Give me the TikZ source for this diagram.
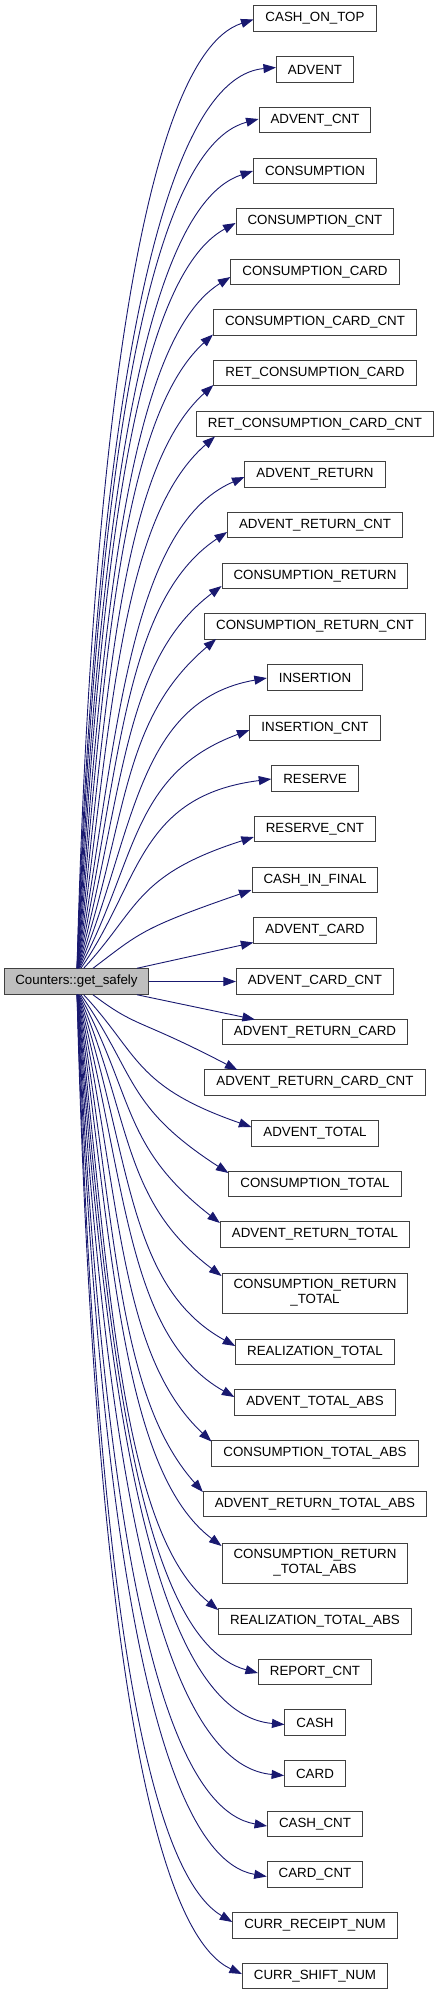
\documentclass[tikz,border=0pt]{standalone}
\usepackage{fontspec}
\newfontfamily\lsans{Liberation Sans}
\usetikzlibrary{arrows.meta,calc}
\definecolor{edgeblue}{HTML}{191970}
\definecolor{srcgray}{HTML}{BFBFBF}
\definecolor{boxline}{HTML}{404040}
\begin{document}
\begin{tikzpicture}[x=1pt,y=-1pt,
  box/.style={draw=boxline, line width=1pt, fill=white, inner xsep=11.5pt, inner ysep=0pt,
     minimum height=25.5pt, align=center, font=\lsans\fontsize{13.33}{14.7}\selectfont},
  tallbox/.style={box, minimum height=40pt},
  edge/.style={draw=edgeblue, line width=0.9pt, -{Triangle[length=12.5pt,width=9pt]}}]
\useasboundingbox (0,0) rectangle (440,1995);
\node[box, fill=srcgray, inner xsep=10.5pt] (src) at (76.5,981.5) {Counters::get\_safely};
\foreach \i/\yy/\lbl in {
  1/18.5/CASH\_ON\_TOP,
  2/69.5/ADVENT,
  3/120/ADVENT\_CNT,
  4/171/CONSUMPTION,
  5/221.5/CONSUMPTION\_CNT,
  6/272/CONSUMPTION\_CARD,
  7/322.5/CONSUMPTION\_CARD\_CNT,
  8/373/RET\_CONSUMPTION\_CARD,
  9/424/RET\_CONSUMPTION\_CARD\_CNT,
  10/474.5/ADVENT\_RETURN,
  11/525/ADVENT\_RETURN\_CNT,
  12/576/CONSUMPTION\_RETURN,
  13/626.5/CONSUMPTION\_RETURN\_CNT,
  14/677.5/INSERTION,
  15/728/INSERTION\_CNT,
  16/778.5/RESERVE,
  17/829/RESERVE\_CNT,
  18/880/CASH\_IN\_FINAL,
  19/930.5/ADVENT\_CARD,
  20/981.5/ADVENT\_CARD\_CNT,
  21/1032/ADVENT\_RETURN\_CARD,
  22/1082.5/ADVENT\_RETURN\_CARD\_CNT,
  23/1133.5/ADVENT\_TOTAL,
  24/1184/CONSUMPTION\_TOTAL,
  25/1234.5/ADVENT\_RETURN\_TOTAL,
  27/1352/REALIZATION\_TOTAL,
  28/1402.5/ADVENT\_TOTAL\_ABS,
  29/1453.5/CONSUMPTION\_TOTAL\_ABS,
  30/1504/ADVENT\_RETURN\_TOTAL\_ABS,
  32/1621.5/REALIZATION\_TOTAL\_ABS,
  33/1672/REPORT\_CNT,
  34/1722.5/CASH,
  35/1773.5/CARD,
  36/1824/CASH\_CNT,
  37/1874.5/CARD\_CNT,
  38/1925.5/CURR\_RECEIPT\_NUM,
  39/1976/CURR\_SHIFT\_NUM}
  \node[box] (t\i) at (315,\yy) {\lbl};
\node[tallbox] (t26) at (315,1293) {CONSUMPTION\_RETURN\\\_TOTAL};
\node[tallbox] (t31) at (315,1563) {CONSUMPTION\_RETURN\\\_TOTAL\_ABS};
\foreach \i/\d/\xo in {1/1/0, 2/-2/0, 3/-1/0, 4/0/0, 5/1.5/0, 6/5/0, 7/12/0, 8/12/0, 9/12.5/19, 10/2.5/0,
  11/7/0, 12/10/0, 13/12.5/12, 14/0.5/0, 15/2/0, 16/0.5/0, 17/8/0, 18/10/0, 19/12/0, 20/0/0,
  21/-12.5/33, 22/-12.5/33, 23/-6.5/0, 24/-11/0, 25/-11.5/0, 26/-17/0, 27/-6/0, 28/-5.5/0, 29/-12/0, 30/-12/0,
  31/-17/0, 32/-11.5/0, 33/1/0, 34/2/0, 35/2/0, 36/2/0, 37/2/0, 38/-3.5/0, 39/-2/0} {
  \pgfmathtruncatemacro{\k}{20-\i}
  \pgfmathtruncatemacro{\ak}{abs(\k)}
  \pgfmathsetmacro{\dd}{-1*\d}
  \ifnum\ak=0
    \draw[edge] (src.east) -- ([yshift=\dd pt]t\i.west);
  \else
    \ifnum\k>0 \def\anc{north}\else\def\anc{south}\fi
    \ifnum\ak=1
      \draw[edge] ([xshift=60.5pt]src.\anc) -- ([xshift=\xo pt, yshift=\dd pt]t\i.west);
    \else
      \pgfmathsetmacro{\sx}{16.5/((\ak-1)^1.2)}
      \pgfmathsetmacro{\ths}{90-53*exp(-0.21*(\ak-2))}
      \ifnum\k>0 \def\sg{1}\else\def\sg{-1}\fi
      \draw[edge] let \p1=([xshift=\sx pt]src.\anc), \p2=([xshift=\xo pt, yshift=\dd pt]t\i.west),
        \n1={abs(\y2-\y1)}, \n2={\x2-\x1}, \n3={max(5,8+0.6*(270-\x2))}
        in (\p1) .. controls ({\x1+0.45*\n1*cot(\ths)}, {\y1+(\sg)*0.45*\n1})
                and ({\x2-0.7*\n2}, {\y2-(\sg)*0.7*\n2*tan(\n3)}) .. (\p2);
    \fi
  \fi
}
\end{tikzpicture}
\end{document}
